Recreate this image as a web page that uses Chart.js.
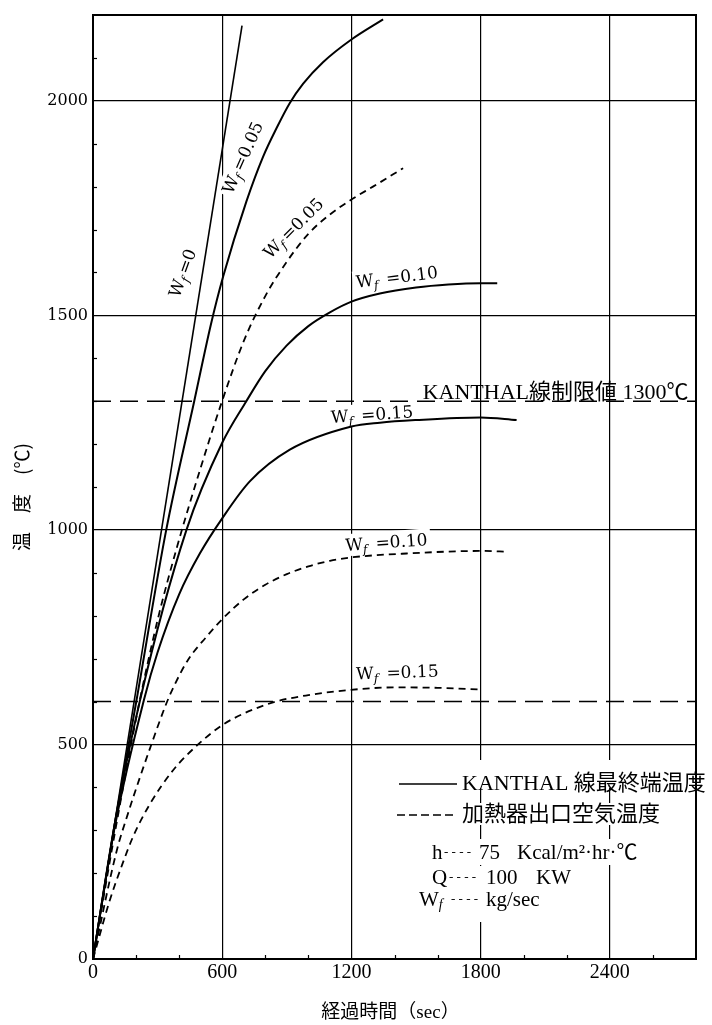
<!DOCTYPE html>
<html>
<head>
<meta charset="utf-8">
<script src="https://cdn.jsdelivr.net/npm/chart.js@4.4.1/dist/chart.umd.min.js"></script>
<style>
  html, body { margin: 0; padding: 0; background: #fff; }
  #c { display: block; }
</style>
</head>
<body>
<canvas id="c" width="712" height="1025" style="width:712px;height:1025px"></canvas>
<script>
// Elapsed time (sec) against temperature (℃) for air-flow rates W_f (kg/sec)
const timeTicks = [0, 600, 1200, 1800, 2400];
const tempTicks = [0, 500, 1000, 1500, 2000];

// KANTHAL wire end temperature (solid)
const wireWf0Time   = [0, 692];
const wireWf0Temp   = [0, 2175];
const wireWf005Time = [0, 100, 201, 340, 470, 548, 604, 712, 790, 852, 914, 976, 1068, 1200, 1347];
const wireWf005Temp = [0, 312, 600, 1000, 1300, 1480, 1590, 1765, 1870, 1936, 1995, 2040, 2090, 2143, 2190];
const wireWf010Time = [0, 100, 217, 434, 600, 712, 800, 900, 1000, 1100, 1200, 1332, 1500, 1650, 1800, 1877];
const wireWf010Temp = [0, 312, 600, 1000, 1203, 1300, 1370, 1430, 1475, 1507, 1532, 1551, 1565, 1572, 1575, 1575];
const wireWf015Time = [0, 100, 237, 300, 400, 496, 600, 728, 914, 1200, 1332, 1500, 1800, 1967];
const wireWf015Temp = [0, 305, 605, 715, 850, 945, 1027, 1113, 1187, 1241, 1250, 1256, 1262, 1256];

// Heater outlet air temperature (dashed)
const airWf005Time = [0, 100, 208, 300, 390, 500, 596, 700, 800, 900, 1000, 1100, 1200, 1300, 1440];
const airWf005Temp = [0, 290, 580, 790, 960, 1145, 1295, 1440, 1545, 1625, 1690, 1735, 1770, 1800, 1843];
const airWf010Time = [0, 109, 163, 217, 271, 341, 379, 441, 527, 600, 700, 800, 900, 1000, 1100, 1200, 1456, 1800, 1928];
const airWf010Temp = [0, 250, 340, 422, 500, 596, 639, 697, 751, 792, 838, 872, 897, 915, 928, 936, 945, 951, 949];
const airWf015Time = [0, 78, 132, 186, 263, 372, 488, 600, 700, 850, 1000, 1192, 1400, 1600, 1793];
const airWf015Temp = [0, 137, 215, 285, 360, 440, 500, 545, 572, 600, 615, 627, 633, 632, 628];

// Horizontal reference levels
const limitTime = [0, 2800];
const kanthalLimit = 1300;
const airLevel = 600;

// Curve captions: W_f value, anchor (time, temperature), text angle
const curveLabels = [
  { text: '=0',     t: 414,  T: 1599, angle: -70 },
  { text: '=0.05',  t: 693,  T: 1868, angle: -66 },
  { text: '=0.05',  t: 929,  T: 1704, angle: -45 },
  { text: ' =0.10', t: 1411, T: 1590, angle: -7 },
  { text: ' =0.15', t: 1295, T: 1270, angle: -4 },
  { text: ' =0.10', t: 1362, T: 972,  angle: -4 },
  { text: ' =0.15', t: 1413, T: 669,  angle: -2 }
];
const limitText = 'KANTHAL線制限値 1300℃';
const limitTextAt = { t: 1531, T: 1305 };

const legendWire = 'KANTHAL 線最終端温度';
const legendAir = '加熱器出口空気温度';
const legendNotes = [
  { sym: 'h', value: '75', unit: 'Kcal/m²·hr·℃' },
  { sym: 'Q', value: '100', unit: 'KW' },
  { sym: 'W', value: '', unit: 'kg/sec' }
];

const xTitle = '経過時間（sec）';
const yTitle = '温　度　(℃)';

function pts(xs, ys) { return xs.map((x, i) => ({ x: x, y: ys[i] })); }

function curve(xs, ys, dashed, width) {
  return {
    data: pts(xs, ys),
    borderColor: '#000',
    borderWidth: width,
    borderDash: dashed ? [7, 5] : [],
    pointRadius: 0,
    fill: false,
    cubicInterpolationMode: 'monotone'
  };
}
function level(v) {
  return {
    data: pts(limitTime, limitTime.map(() => v)),
    borderColor: '#000',
    borderWidth: 1.6,
    borderDash: [18, 9],
    pointRadius: 0,
    fill: false,
    tension: 0
  };
}

const SERIF_CJK = "'Liberation Serif', 'Noto Sans CJK JP'";

function wfLabel(ctx, cx, cy, angle, rest, size, boxOnly) {
  ctx.save();
  ctx.translate(cx, cy);
  ctx.rotate(angle * Math.PI / 180);
  const main = size + "px 'DejaVu Serif'";
  const sub = 'italic ' + Math.round(size * 0.68) + "px 'DejaVu Serif'";
  ctx.font = main;
  const wW = ctx.measureText('W').width;
  const wR = ctx.measureText(rest).width;
  ctx.font = sub;
  const wf = ctx.measureText('f').width + 3;
  const total = wW + wf + wR;
  let x = -total / 2;
  const base = size * 0.36;
  if (boxOnly) {
    ctx.fillStyle = '#fff';
    ctx.fillRect(x - 3, -size * 0.62, total + 6, size * 1.3);
  } else {
    ctx.fillStyle = '#000';
    ctx.textBaseline = 'alphabetic';
    ctx.textAlign = 'left';
    ctx.font = main; ctx.fillText('W', x, base); x += wW;
    ctx.font = sub; ctx.fillText('f', x, base + size * 0.22); x += wf;
    ctx.font = main; ctx.fillText(rest, x, base);
  }
  ctx.restore();
}

// Legend block laid out from the left edge of the plot
function legendRows(area) {
  const L = area.left + 306;
  return {
    wire: { x0: L, x1: L + 58, y: 784, tx: L + 63 },
    air:  { x0: L - 2, x1: L + 58, y: 815, tx: L + 63 },
    notes: [
      { sx: L + 33, lx: L + 45, vx: L + 80, ux: L + 118, y: 853 },
      { sx: L + 33, lx: L + 50, vx: L + 87, ux: L + 137, y: 878 },
      { sx: L + 20, lx: L + 52, vx: L + 87, ux: L + 87,  y: 900 }
    ]
  };
}

const decorations = {
  id: 'decorations',
  beforeDatasetsDraw(chart) {
    const { ctx, chartArea: a, scales: { x, y } } = chart;
    ctx.save();
    // clear grid behind captions
    curveLabels.forEach(l => wfLabel(ctx, x.getPixelForValue(l.t), y.getPixelForValue(l.T), l.angle, l.text, 17, true));
    // clear grid behind legend rows
    const r = legendRows(a);
    ctx.fillStyle = '#fff';
    ctx.fillRect(r.wire.x0 - 2, r.wire.y - 24, 312, 28);
    ctx.fillRect(r.air.x0 - 2, r.air.y - 12, 262, 22);
    ctx.fillRect(r.notes[0].sx - 4, r.notes[0].y - 14, 242, 26);
    ctx.fillRect(r.notes[1].sx - 4, r.notes[1].y - 12, 140, 24);
    ctx.fillRect(r.notes[2].sx - 4, r.notes[2].y - 12, 138, 34);
    ctx.restore();
  },
  afterDatasetsDraw(chart) {
    const { ctx, chartArea: a, scales: { x, y } } = chart;
    ctx.save();
    // minor ticks along the axes
    ctx.strokeStyle = '#000';
    ctx.lineWidth = 1.2;
    for (let v = 100; v < 2200; v += 100) {
      if (v % 500 === 0) continue;
      const py = Math.round(y.getPixelForValue(v)) + 0.5;
      ctx.beginPath(); ctx.moveTo(a.left, py); ctx.lineTo(a.left + 4, py); ctx.stroke();
    }
    for (let v = 200; v < 2800; v += 200) {
      if (v % 600 === 0) continue;
      const px = Math.round(x.getPixelForValue(v)) + 0.5;
      ctx.beginPath(); ctx.moveTo(px, a.bottom); ctx.lineTo(px, a.bottom - 4); ctx.stroke();
    }
    // plot frame
    ctx.lineWidth = 2;
    ctx.strokeRect(a.left, a.top, a.right - a.left, a.bottom - a.top);

    // curve captions
    curveLabels.forEach(l => wfLabel(ctx, x.getPixelForValue(l.t), y.getPixelForValue(l.T), l.angle, l.text, 17, false));

    // limit caption
    ctx.fillStyle = '#000';
    ctx.textAlign = 'left';
    ctx.textBaseline = 'alphabetic';
    ctx.font = '22px ' + SERIF_CJK;
    ctx.fillText(limitText, x.getPixelForValue(limitTextAt.t), y.getPixelForValue(limitTextAt.T));

    // legend
    const r = legendRows(a);
    ctx.lineWidth = 1.6;
    ctx.setLineDash([]);
    ctx.beginPath(); ctx.moveTo(r.wire.x0, r.wire.y); ctx.lineTo(r.wire.x1, r.wire.y); ctx.stroke();
    ctx.setLineDash([8, 4]);
    ctx.beginPath(); ctx.moveTo(r.air.x0, r.air.y); ctx.lineTo(r.air.x1, r.air.y); ctx.stroke();
    ctx.setLineDash([]);
    ctx.textBaseline = 'middle';
    ctx.font = '22px ' + SERIF_CJK;
    ctx.fillText(legendWire, r.wire.tx, r.wire.y);
    ctx.fillText(legendAir, r.air.tx, r.air.y);
    legendNotes.forEach((n, i) => {
      const row = r.notes[i];
      ctx.font = '21px ' + SERIF_CJK;
      ctx.fillText(n.sym, row.sx, row.y);
      if (n.sym === 'W') {
        const w = ctx.measureText('W').width;
        ctx.font = "italic 14px 'Liberation Serif'";
        ctx.fillText('f', row.sx + w, row.y + 5);
      }
      ctx.font = "13px 'Liberation Serif'";
      ctx.fillText('- - - -', row.lx, row.y);
      ctx.font = '21px ' + SERIF_CJK;
      if (n.value) ctx.fillText(n.value, row.vx, row.y);
      ctx.fillText(n.unit, row.ux, row.y);
    });

    // axis titles
    ctx.textAlign = 'center';
    ctx.textBaseline = 'middle';
    ctx.font = '19px ' + SERIF_CJK;
    ctx.fillText(xTitle, (a.left + a.right) / 2 - 4, 1013);
    ctx.save();
    ctx.translate(22, (a.top + a.bottom) / 2 + 10);
    ctx.rotate(-Math.PI / 2);
    ctx.font = "19px 'Noto Sans CJK JP'";
    ctx.fillText(yTitle, 0, 0);
    ctx.restore();
    ctx.restore();
  }
};

const ctx = document.getElementById('c').getContext('2d');
new Chart(ctx, {
  type: 'line',
  data: {
    datasets: [
      curve(wireWf0Time, wireWf0Temp, false, 1.6),
      curve(wireWf005Time, wireWf005Temp, false, 2),
      curve(wireWf010Time, wireWf010Temp, false, 2),
      curve(wireWf015Time, wireWf015Temp, false, 2),
      curve(airWf005Time, airWf005Temp, true, 1.8),
      curve(airWf010Time, airWf010Temp, true, 1.8),
      curve(airWf015Time, airWf015Temp, true, 1.8),
      level(kanthalLimit),
      level(airLevel)
    ]
  },
  options: {
    responsive: false,
    animation: false,
    events: [],
    layout: { padding: { left: 0, right: 16, top: 15, bottom: 0 } },
    plugins: { legend: { display: false }, tooltip: { enabled: false } },
    scales: {
      x: {
        type: 'linear', min: 0, max: 2800,
        afterFit(s) { s.height = 66; },
        afterBuildTicks(s) { s.ticks = timeTicks.map(v => ({ value: v })); },
        ticks: { color: '#000', font: { family: 'Liberation Serif', size: 20 }, padding: 2, maxRotation: 0, autoSkip: false,
                 callback: v => String(v) },
        grid: { color: '#000', lineWidth: 1.2, drawTicks: false },
        border: { display: false }
      },
      y: {
        type: 'linear', min: 0, max: 2200,
        afterFit(s) { s.width = 93; },
        afterBuildTicks(s) { s.ticks = tempTicks.map(v => ({ value: v })); },
        ticks: { color: '#000', font: { family: 'DejaVu Serif', size: 16 }, padding: 5, autoSkip: false,
                 callback: v => String(v) },
        grid: { color: '#000', lineWidth: 1.2, drawTicks: false },
        border: { display: false }
      }
    }
  },
  plugins: [decorations]
});
</script>
</body>
</html>
